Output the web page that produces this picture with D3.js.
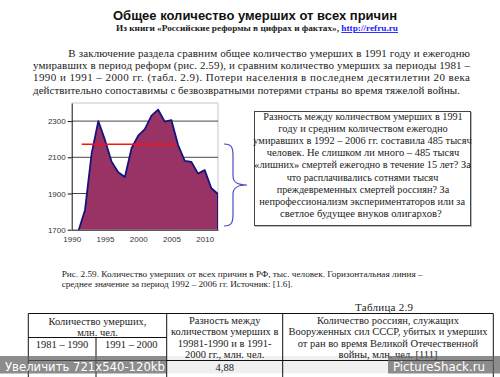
<!DOCTYPE html>
<html lang="ru">
<head>
<meta charset="UTF-8">
<title>Общее количество умерших от всех причин</title>
<script src="https://d3js.org/d3.v7.min.js"></script>
<style>
    body { margin: 0; background: #fff; }
    svg { display: block; }
    .serif { font-family: "Liberation Serif", "Times New Roman", serif; fill: #222; }
    .sans { font-family: "Liberation Sans", Arial, sans-serif; }
    .axis text { font-family: "Liberation Sans", Arial, sans-serif; font-size: 8px; fill: #333; }
</style>
</head>
<body>
<script>
    // chart data (thousand people)
    const years = [1991, 1992, 1993, 1994, 1995, 1996, 1997, 1998, 1999, 2000, 2001,
                   2002, 2003, 2004, 2005, 2006, 2007, 2008, 2009, 2010, 2011, 2012];
    const deaths = [1691, 1809, 2122, 2300, 2196, 2076, 2017, 1991, 2150, 2220, 2256,
                    2330, 2363, 2297, 2305, 2168, 2080, 2075, 2010, 2029, 1929, 1897];
    const meanValue = 2172;
    const meanSpan = [1991.5, 2005.5];
    const yTicks = [1700, 1900, 2100, 2300];
    const xTicks = [1990, 1995, 2000, 2005, 2010];

    const titleText = "Общее количество умерших от всех причин";
    const paragraph = [
        "В заключение раздела сравним общее количество умерших в 1991 году и ежегодню",
        "умиравших в период реформ (рис. 2.59), и  сравним количество умерших за периоды 1981 –",
        "1990 и 1991 – 2000 гг. (табл. 2.9). Потери населения в последнем десятилетии 20 века",
        "действительно сопоставимы с безвозвратными потерями страны во время тяжелой войны."
    ];
    const boxLines = [
        "Разность между количеством умерших в 1991",
        "году и средним количеством ежегодно",
        "умиравших в 1992 – 2006 гг. составила 485 тысяч",
        "человек. Не слишком ли много – 485 тысяч",
        "«лишних» смертей ежегодно в течение 15 лет? За",
        "что расплачивались сотнями тысяч",
        "преждевременных смертей россиян? За",
        "непрофессионализм экспериментаторов или за",
        "светлое будущее внуков олигархов?"
    ];
    const caption = [
        "Рис. 2.59. Количество умерших от всех причин в РФ, тыс. человек. Горизонтальная линия –",
        "среднее значение за период 1992 – 2006 гг. Источник: [1.6]."
    ];

    const W = 500, H = 377;
    const svg = d3.select("body").append("svg").attr("width", W).attr("height", H);
    svg.append("rect").attr("width", W).attr("height", H).attr("fill", "#fff");

    // header
    svg.append("text").attr("class", "sans")
        .attr("x", 255).attr("y", 19.5).attr("text-anchor", "middle")
        .attr("font-size", 13.5).attr("font-weight", "bold").attr("fill", "#111")
        .attr("textLength", 284).attr("lengthAdjust", "spacingAndGlyphs")
        .text(titleText);

    const sub = svg.append("text").attr("class", "serif")
        .attr("x", 116).attr("y", 31).attr("font-size", 9).attr("font-weight", "bold")
        .attr("textLength", 282).attr("lengthAdjust", "spacingAndGlyphs");
    sub.append("tspan").text("Из книги «Российские реформы в цифрах и фактах», ");
    sub.append("tspan").attr("fill", "#1a1aff").attr("text-decoration", "underline").text("http://refru.ru");

    // paragraph (justified)
    const paraX = [[68.3, 470], [33, 470], [33, 470], [33, 460]];
    const paraY = [56.5, 68.5, 81, 93.5];
    paragraph.forEach((s, i) => {
        svg.append("text").attr("class", "serif")
            .attr("x", paraX[i][0]).attr("y", paraY[i]).attr("font-size", 11)
            .attr("textLength", paraX[i][1] - paraX[i][0]).attr("lengthAdjust", "spacing")
            .text(s);
    });

    // chart
    const x = d3.scaleLinear().domain([1990, 2012]).range([71.7, 218]);
    const y = d3.scaleLinear().domain([1700, 2400]).range([229.7, 103]);
    const plot = svg.append("g");

    plot.append("defs").append("clipPath").attr("id", "clip")
        .append("rect").attr("x", x(1990)).attr("y", y(2400))
        .attr("width", x(2012) - x(1990)).attr("height", y(1700) - y(2400));

    plot.append("path")
        .attr("d", `M${x(1990)},${y(2400)}H${x(2012)}V${y(1700)}`)
        .attr("fill", "none").attr("stroke", "#c8c8c8").attr("stroke-width", 1);

    plot.selectAll(".grid").data(yTicks.slice(1)).enter().append("line")
        .attr("x1", x(1990)).attr("x2", x(2012))
        .attr("y1", d => y(d)).attr("y2", d => y(d))
        .attr("stroke", "#333").attr("stroke-width", 0.9);

    const pts = years.map((yr, i) => [yr, deaths[i]]);
    const g = plot.append("g").attr("clip-path", "url(#clip)");
    g.append("path").datum(pts)
        .attr("d", d3.area().x(d => x(d[0])).y0(y(1700)).y1(d => y(d[1])))
        .attr("fill", "#993366");
    g.append("path").datum(pts)
        .attr("d", d3.line().x(d => x(d[0])).y(d => y(d[1]))(pts) + `V${y(1700)}`)
        .attr("fill", "none").attr("stroke", "#14147a").attr("stroke-width", 1.8)
        .attr("stroke-linejoin", "round");

    plot.append("line")
        .attr("x1", x(meanSpan[0])).attr("x2", x(meanSpan[1]))
        .attr("y1", y(meanValue)).attr("y2", y(meanValue))
        .attr("stroke", "#ff1010").attr("stroke-width", 1.6);

    const yAxis = plot.append("g").attr("class", "axis")
        .attr("transform", `translate(${x(1990)},0)`)
        .call(d3.axisLeft(y).tickValues(yTicks).tickFormat(d3.format("d"))
            .tickSize(4).tickSizeOuter(0).tickPadding(2));
    yAxis.selectAll("path, line").attr("stroke", "#111");

    const xAxis = plot.append("g").attr("class", "axis")
        .attr("transform", `translate(0,${y(1700)})`)
        .call(d3.axisBottom(x).tickValues(xTicks).tickFormat(d3.format("d"))
            .tickSize(0).tickSizeOuter(0).tickPadding(7));
    xAxis.selectAll("path").attr("stroke", "#111");

    // brace
    svg.append("path")
        .attr("d", "M224,144 C232,144 233,148 233,156 L233,176 C233,183 238,185 247,185 " +
                   "C238,185 233,187 233,194 L233,214 C233,222 232,226 224,226")
        .attr("fill", "none").attr("stroke", "#4b4bc8").attr("stroke-width", 1.2);

    // text box
    svg.append("rect").attr("x", 255.5).attr("y", 112.5).attr("width", 216).attr("height", 114)
        .attr("fill", "none").attr("stroke", "#bbb").attr("stroke-width", 1);
    svg.append("rect").attr("x", 254.5).attr("y", 111.5).attr("width", 216).attr("height", 114)
        .attr("fill", "#fff").attr("stroke", "#444").attr("stroke-width", 1);
    const boxSpan = [[263.3, 462.7], [278.3, 447.7], [253.3, 471.7], [266.7, 459.3], [254.3, 470.7],
                     [286.7, 438.3], [276.7, 449.3], [259.3, 465], [280, 441.7]];
    boxLines.forEach((s, i) => {
        svg.append("text").attr("class", "serif")
            .attr("x", boxSpan[i][0]).attr("y", 119.5 + i * 12.2).attr("font-size", 10)
            .attr("textLength", boxSpan[i][1] - boxSpan[i][0]).attr("lengthAdjust", "spacingAndGlyphs")
            .text(s);
    });

    // caption
    svg.append("text").attr("class", "serif").attr("x", 61.7).attr("y", 277).attr("font-size", 9)
        .attr("textLength", 361).attr("lengthAdjust", "spacingAndGlyphs").text(caption[0]);
    svg.append("text").attr("class", "serif").attr("x", 61.7).attr("y", 286.5).attr("font-size", 9)
        .attr("textLength", 231).attr("lengthAdjust", "spacingAndGlyphs").text(caption[1]);

    svg.append("text").attr("class", "serif").attr("x", 355).attr("y", 311).attr("font-size", 11)
        .attr("textLength", 58).attr("lengthAdjust", "spacing").text("Таблица  2.9");

    // table
    const cols = [28.3, 96, 166.7, 282.7, 493.3];
    const tb = svg.append("g").attr("stroke", "#111").attr("stroke-width", 1);
    tb.append("line").attr("x1", cols[0]).attr("x2", cols[4]).attr("y1", 313.5).attr("y2", 313.5);
    tb.append("line").attr("x1", cols[0]).attr("x2", cols[2]).attr("y1", 337.5).attr("y2", 337.5);
    tb.append("line").attr("x1", cols[0]).attr("x2", cols[4]).attr("y1", 360.5).attr("y2", 360.5);
    [cols[0], cols[2], cols[3], cols[4]].forEach(c =>
        tb.append("line").attr("x1", c).attr("x2", c).attr("y1", 313.5).attr("y2", 380));
    tb.append("line").attr("x1", cols[1]).attr("x2", cols[1]).attr("y1", 337.5).attr("y2", 380);

    const cell = (cx, cy, s) => svg.append("text").attr("class", "serif")
        .attr("x", cx).attr("y", cy).attr("text-anchor", "middle")
        .attr("dominant-baseline", "central").attr("font-size", 10.5).text(s);
    cell(97.5, 321, "Количество умерших,");
    cell(97.5, 332, "млн. чел.");
    cell(62, 344.5, "1981 – 1990");
    cell(131.3, 344.5, "1991 – 2000");
    ["Разность между", "количеством умерших в", "19981-1990 и в 1991-", "2000 гг., млн. чел."]
        .forEach((s, i) => cell(224.7, 320.5 + i * 11.4, s));
    ["Количество россиян, служащих", "Вооруженных сил СССР, убитых и умерших",
     "от ран во время Великой Отечественной", "войны, млн. чел. [111]"]
        .forEach((s, i) => cell(388, 320.5 + i * 11.4, s));
    cell(224.7, 367, "4,88");

    // watermark bar
    svg.append("rect").attr("x", 0).attr("y", 356).attr("width", 166).attr("height", 17.5)
        .attr("fill", "rgba(95,95,95,0.72)");
    svg.append("rect").attr("x", 166).attr("y", 356).attr("width", 222).attr("height", 17.5)
        .attr("fill", "rgba(0,0,0,0.06)");
    svg.append("rect").attr("x", 388).attr("y", 356).attr("width", 112).attr("height", 17.5)
        .attr("fill", "rgba(95,95,95,0.72)");
    svg.append("text").attr("x", 5).attr("y", 371).attr("font-size", 13)
        .attr("font-family", "'DejaVu Sans Condensed', 'DejaVu Sans', sans-serif")
        .attr("fill", "#fff").attr("textLength", 160).attr("lengthAdjust", "spacingAndGlyphs")
        .text("Увеличить 721x540-120kb");
    svg.append("text").attr("x", 393).attr("y", 371).attr("font-size", 13)
        .attr("font-family", "'DejaVu Sans Condensed', 'DejaVu Sans', sans-serif")
        .attr("fill", "#fff").attr("textLength", 92).attr("lengthAdjust", "spacingAndGlyphs")
        .text("PictureShack.ru");
</script>
</body>
</html>
